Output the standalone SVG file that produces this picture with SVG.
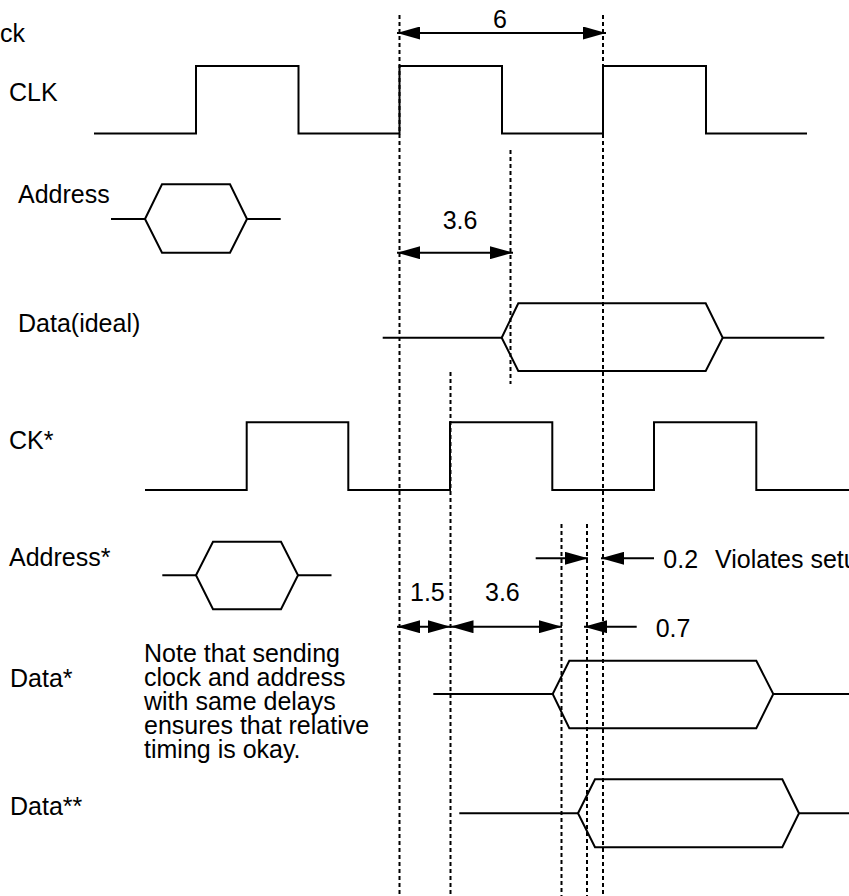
<svg xmlns="http://www.w3.org/2000/svg" width="849" height="896" viewBox="0 0 849 896">
<defs>
<style>
text{font-family:"Liberation Sans",Arial,sans-serif;font-size:25px;fill:#000}
.w{fill:none;stroke:#000;stroke-width:2;stroke-linejoin:miter}
.g{fill:none;stroke:#000;stroke-width:2;stroke-dasharray:4 3}
.d{fill:none;stroke:#000;stroke-width:2}
.a2{marker-start:url(#ah);marker-end:url(#ah)}
.a1{marker-end:url(#ah)}
</style>
<marker id="ah" viewBox="0 0 23 13" refX="23" refY="6.5" markerWidth="23" markerHeight="13" markerUnits="userSpaceOnUse" orient="auto-start-reverse">
<path d="M0,0 L23,6.5 L0,13 Z" fill="#000"/>
</marker>
</defs>
<rect width="849" height="896" fill="#fff"/>
<g id="title"><text x="0" y="41.7">ck</text></g>
<g id="guides">
<line class="g" x1="399.5" y1="15" x2="399.5" y2="896"/>
<line class="g" x1="603" y1="15" x2="603" y2="896"/>
<line class="g" x1="510.5" y1="150" x2="510.5" y2="384"/>
<line class="g" x1="450.5" y1="372" x2="450.5" y2="896"/>
<line class="g" x1="561.5" y1="524" x2="561.5" y2="896"/>
<line class="g" x1="587" y1="524" x2="587" y2="896"/>
</g>
<g id="clk">
<text x="9" y="100.7">CLK</text>
<polyline class="w" points="94,133.5 196,133.5 196,66 298.5,66 298.5,133.5 399.5,133.5 399.5,66 502,66 502,133.5 603,133.5 603,66 706,66 706,133.5 807,133.5"/>
</g>
<g id="address">
<text x="18" y="203">Address</text>
<polyline class="w" points="111,219 145,219"/>
<polygon class="w" points="145,219 162,184.3 230,184.3 247,219 230,252.7 162,252.7"/>
<polyline class="w" points="247,219 280.7,219"/>
</g>
<g id="data-ideal">
<text x="18" y="331.7">Data(ideal)</text>
<polyline class="w" points="382.7,337.7 501.7,337.7"/>
<polygon class="w" points="501.7,337.7 518.3,303.3 705.7,303.3 722.7,337.7 705.7,371 518.3,371"/>
<polyline class="w" points="722.7,337.7 824.3,337.7"/>
</g>
<g id="ck-star">
<text x="9" y="449">CK*</text>
<polyline class="w" points="145,490 246.7,490 246.7,422.3 348.3,422.3 348.3,490 450,490 450,422.3 552.3,422.3 552.3,490 654,490 654,422.3 756.3,422.3 756.3,490 858,490"/>
</g>
<g id="address-star">
<text x="9" y="566">Address*</text>
<polyline class="w" points="162.3,575.3 196,575.3"/>
<polygon class="w" points="196,575.3 213,541.7 281,541.7 298,575.3 281,609.3 213,609.3"/>
<polyline class="w" points="298,575.3 331.5,575.3"/>
</g>
<g id="data-star">
<text x="10" y="686.7">Data*</text>
<polyline class="w" points="433.3,694 552.7,694"/>
<polygon class="w" points="552.7,694 569.3,660.7 756.3,660.7 773.3,694 756.3,728.3 569.3,728.3"/>
<polyline class="w" points="773.3,694 875,694"/>
</g>
<g id="data-star2">
<text x="10" y="815">Data**</text>
<polyline class="w" points="459.3,813.3 578,813.3"/>
<polygon class="w" points="578,813.3 595,779.3 782.3,779.3 799,813.3 782.3,847.3 595,847.3"/>
<polyline class="w" points="799,813.3 900,813.3"/>
</g>
<g id="note">
<text x="144" y="661.7"><tspan x="144" y="661.7">Note that sending</tspan><tspan x="144" y="686">clock and address</tspan><tspan x="144" y="710">with same delays</tspan><tspan x="144" y="734">ensures that relative</tspan><tspan x="144" y="758">timing is okay.</tspan></text>
</g>
<g id="connectors">
<line class="d a2" x1="397" y1="33" x2="606" y2="33"/>
<line class="d a2" x1="397" y1="252.7" x2="513" y2="252.7"/>
<line class="d a2" x1="397" y1="626.7" x2="450.5" y2="626.7"/>
<line class="d a2" x1="450.5" y1="626.7" x2="562" y2="626.7"/>
<line class="d a1" x1="636.7" y1="626.7" x2="584" y2="626.7"/>
<line class="d a1" x1="535.7" y1="558.3" x2="588" y2="558.3"/>
<line class="d a1" x1="654" y1="558.3" x2="601" y2="558.3"/>
</g>
<g id="dim-labels">
<text x="493" y="27.5">6</text>
<text x="442.7" y="229">3.6</text>
<text x="410" y="600.7">1.5</text>
<text x="485" y="600.7">3.6</text>
<text x="655.7" y="636.7">0.7</text>
<text x="663.3" y="568.3">0.2</text>
<text x="715" y="568.3">Violates setu</text>
</g>
</svg>
